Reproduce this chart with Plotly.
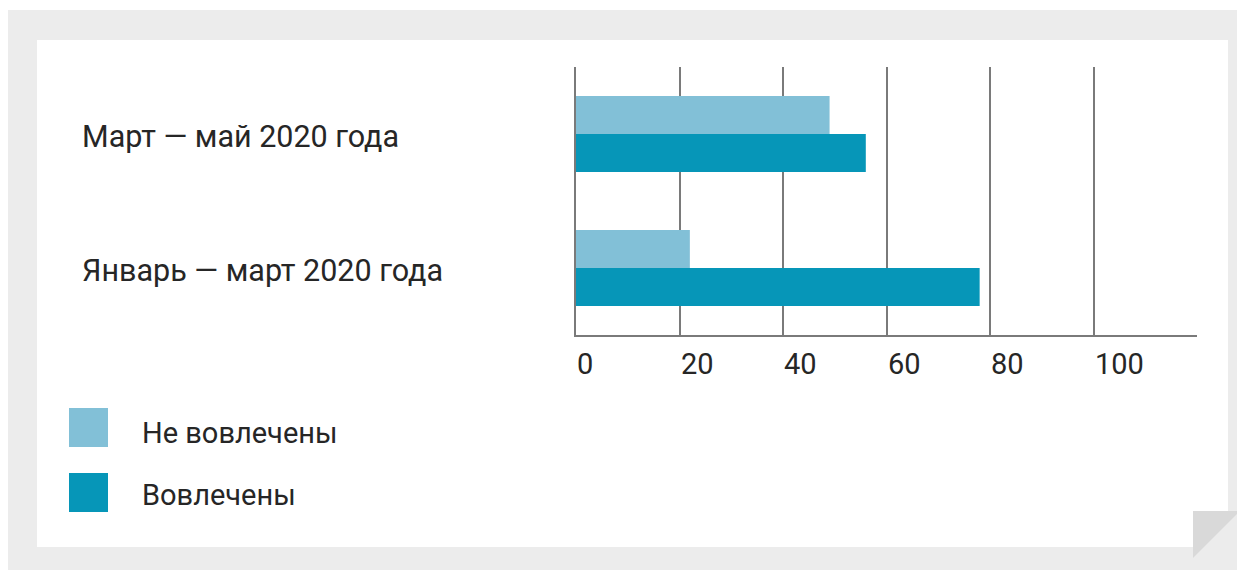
import plotly.graph_objects as go

# page body has an 8px margin, so the figure is placed at (8, 8)
OFF = 8
W, H = 1245 - OFF, 570 - OFF

categories = ["Январь — март 2020 года", "Март — май 2020 года"]
not_engaged = [22, 49]
engaged = [78, 56]
series_names = ["Не вовлечены", "Вовлечены"]
tick_values = [0, 20, 40, 60, 80, 100]
tick_labels = ["0", "20", "40", "60", "80", "100"]

LIGHT = "#82c0d7"
DARK = "#0696b8"
GRID = "#7a7a7a"
TEXT = "#262626"


def px(x):
    return (x - OFF) / W


def py(y):
    return 1 - (y - OFF) / H


fig = go.Figure()
fig.add_trace(go.Bar(y=categories, x=engaged, orientation="h", name=series_names[1],
                     marker=dict(color=DARK, line=dict(width=0)), showlegend=False))
fig.add_trace(go.Bar(y=categories, x=not_engaged, orientation="h", name=series_names[0],
                     marker=dict(color=LIGHT, line=dict(width=0)), showlegend=False))

shapes = [
    # outer gray background
    dict(type="rect", xref="paper", yref="paper", x0=px(7), x1=px(1245), y0=py(570), y1=py(10),
         fillcolor="#ececec", line=dict(width=0), layer="below"),
    # white card with cut corner
    dict(type="path", xref="paper", yref="paper",
         path=f"M{px(37)},{py(40)} L{px(1228)},{py(40)} L{px(1228)},{py(511)} "
              f"L{px(1193)},{py(547)} L{px(37)},{py(547)} Z",
         fillcolor="white", line=dict(width=0), layer="below"),
    # folded flap
    dict(type="path", xref="paper", yref="paper",
         path=f"M{px(1193)},{py(511)} L{px(1240)},{py(511)} L{px(1193)},{py(558)} Z",
         fillcolor="#d9d9d9", line=dict(width=0), layer="below"),
    # legend squares
    dict(type="rect", xref="paper", yref="paper", x0=px(69), x1=px(108), y0=py(447), y1=py(408),
         fillcolor=LIGHT, line=dict(width=0)),
    dict(type="rect", xref="paper", yref="paper", x0=px(69), x1=px(108), y0=py(512), y1=py(473),
         fillcolor=DARK, line=dict(width=0)),
]

annotations = []
for cat in categories:
    annotations.append(dict(x=px(80), xref="paper", y=cat, yref="y", text=cat, showarrow=False,
                            xanchor="left", yanchor="middle", yshift=-2,
                            font=dict(family="Roboto", size=30.5, color=TEXT)))
for v, t in zip(tick_values, tick_labels):
    annotations.append(dict(x=v, xref="x", y=py(364), yref="paper", text=t, showarrow=False,
                            xanchor="left", yanchor="middle", xshift=-1,
                            font=dict(family="Roboto", size=29, color=TEXT)))
for name, yc in zip(series_names, [433, 495]):
    annotations.append(dict(x=px(140), xref="paper", y=py(yc), yref="paper", text=name,
                            showarrow=False, xanchor="left", yanchor="middle",
                            font=dict(family="Roboto", size=29, color=TEXT)))

fig.update_layout(
    width=W, height=H,
    margin=dict(l=0, r=0, t=0, b=0),
    paper_bgcolor="white", plot_bgcolor="rgba(0,0,0,0)",
    barmode="group", bargap=0.433, bargroupgap=0,
    shapes=shapes, annotations=annotations,
    showlegend=False,
    xaxis=dict(domain=[px(576), px(1197)], range=[0, 120], tickvals=tick_values,
               showticklabels=False, showgrid=True, gridcolor=GRID, gridwidth=1.5,
               zeroline=False, showline=True, linecolor=GRID, linewidth=1.5, ticks="",
               fixedrange=True),
    yaxis=dict(domain=[py(335), py(67)], type="category", categoryorder="array",
               categoryarray=categories, range=[-0.5, 1.5], showticklabels=False,
               showgrid=False, zeroline=False, showline=True, linecolor=GRID, linewidth=1.5,
               ticks="", fixedrange=True),
)

fig.write_html("out.html")
